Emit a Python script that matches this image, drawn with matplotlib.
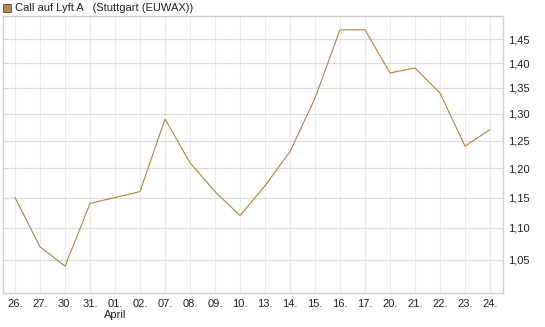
import numpy as np
import matplotlib.pyplot as plt
from matplotlib.patches import Rectangle

# data
days = ['26.', '27.', '30.', '31.', '01.\nApril', '02.', '07.', '08.', '09.', '10.',
        '13.', '14.', '15.', '16.', '17.', '20.', '21.', '22.', '23.', '24.']
price = [1.15, 1.07, 1.04, 1.14, 1.15, 1.16, 1.29, 1.21, 1.16, 1.12,
         1.17, 1.23, 1.33, 1.47, 1.47, 1.38, 1.39, 1.34, 1.24, 1.27]
yticks = [1.05, 1.10, 1.15, 1.20, 1.25, 1.30, 1.35, 1.40, 1.45]
ytick_labels = ['1,05', '1,10', '1,15', '1,20', '1,25', '1,30', '1,35', '1,40', '1,45']
title = 'Call auf Lyft A   (Stuttgart (EUWAX))'

plt.rcParams['font.family'] = ['Liberation Sans', 'DejaVu Sans']

W, H = 545, 327
fig = plt.figure(figsize=(W / 100, H / 100), dpi=100)
ax = fig.add_axes([3 / W, (H - 293) / H, 500 / W, (293 - 16) / H])

x = np.arange(len(price))
line_col = '#b4823c'
ax.plot(x, price, color=line_col, linewidth=0.8)

ax.set_yscale('log')
ax.set_ylim(1.0, 1.5)
ax.set_xlim(-0.48, 19.52)
ax.yaxis.set_minor_locator(plt.NullLocator())
ax.set_yticks(yticks)
ax.set_yticklabels(ytick_labels)
ax.set_xticks(x)
ax.set_xticklabels(days)
ax.yaxis.tick_right()
ax.tick_params(axis='both', length=0, labelsize=8, colors='#222222')
ax.tick_params(axis='y', pad=4)
ax.tick_params(axis='x', pad=4)

ax.grid(axis='y', color='#dcdcdc', linewidth=0.9)
ax.grid(axis='x', color='#ececec', linewidth=0.9)
ax.set_axisbelow(True)
for s in ax.spines.values():
    s.set_color('#d0d0d0')
    s.set_linewidth(1)

# legend box at the top
fig.patches.append(Rectangle((3 / W, (H - 12) / H), 8 / W, 8 / H,
                             transform=fig.transFigure, facecolor='#b08850',
                             edgecolor='#5a4a30', linewidth=0.6))
fig.text(15 / W, (H - 8) / H, title, fontsize=8, va='center', ha='left', color='#222222')

fig.savefig('out.png', dpi=100)
